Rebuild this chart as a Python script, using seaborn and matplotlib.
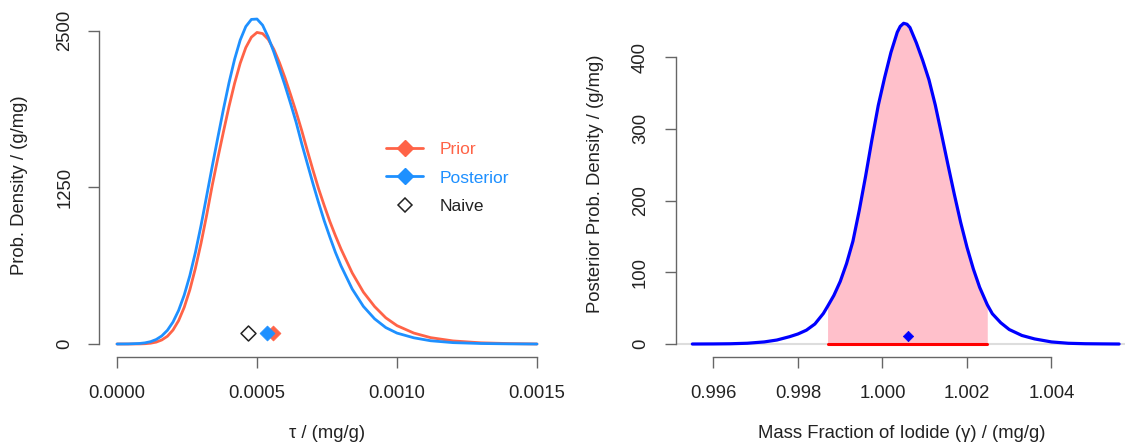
import numpy as np
import pandas as pd
import matplotlib
matplotlib.use("Agg")
import matplotlib.pyplot as plt
from matplotlib.lines import Line2D
import seaborn as sns

# ---------------- data ----------------
# Left panel: densities of tau, read at these tau positions
tau_grid = [0.0, 0.00004, 0.00008, 0.0001, 0.00012, 0.00014, 0.00016, 0.00018,
            0.0002, 0.00022, 0.00024, 0.00026, 0.00028, 0.0003, 0.00032, 0.00034,
            0.00036, 0.00038, 0.0004, 0.00042, 0.00044, 0.00046, 0.00048, 0.0005,
            0.00052, 0.00054, 0.00056, 0.00058, 0.0006, 0.00062, 0.00064, 0.00066,
            0.00068, 0.0007, 0.00072, 0.00074, 0.00076, 0.00078, 0.0008, 0.00084,
            0.00088, 0.00092, 0.00096, 0.001, 0.00106, 0.00112, 0.0012, 0.0013,
            0.0014, 0.0015]
post_dens = [0, 0.7, 4.2, 9.2, 18.8, 36, 64.6, 109.4,
             175.5, 268, 390.5, 545, 731, 945, 1180, 1417,
             1647, 1873, 2085, 2273, 2426, 2534, 2591, 2594,
             2545, 2450, 2331, 2199, 2064, 1919, 1768, 1597,
             1438, 1279, 1128, 984, 855, 732, 624, 439,
             300, 201, 131, 87, 49.5, 25.9, 10.9, 3.9,
             1.0, 0]
prior_dens = [0, 0, 0.75, 2.3, 6.3, 15, 32.3, 61.7,
              111.4, 186.5, 292.4, 431.5, 604, 803.6, 1026, 1265,
              1483, 1693, 1896, 2081, 2241, 2366, 2449, 2487,
              2478, 2432, 2353, 2247, 2125, 1990, 1851, 1702,
              1542, 1387, 1239, 1106, 979, 865, 758, 567.5,
              414, 299, 209, 146.6, 87.3, 50.8, 24.6, 9.4,
              3.4, 0]

point_labels = ["Naive", "Posterior", "Prior"]
point_tau = [0.000468, 0.000536, 0.000557]
point_y = [88, 88, 88]

# Right panel: posterior density of gamma
gamma = [0.9955, 0.996, 0.9964, 0.9968, 0.9972, 0.9975, 0.9978, 0.998,
         0.9982, 0.9984, 0.9986, 0.9987, 0.99885, 0.999, 0.99915, 0.9993,
         0.99945, 0.9996, 0.99975, 0.9999, 1.00005, 1.0002, 1.00035, 1.00042,
         1.0005, 1.00058, 1.00065, 1.0008, 1.00095, 1.0011, 1.00125, 1.0014,
         1.00155, 1.0017, 1.00185, 1.002, 1.00215, 1.0023, 1.00248, 1.0026,
         1.0028, 1.003, 1.0033, 1.0036, 1.004, 1.0044, 1.0048, 1.0052,
         1.0056]
gamma_dens = [0, 0.12, 0.36, 1.07, 2.9, 5.55, 10.2, 14.0,
              19.3, 27.9, 42.5, 52.4, 67.8, 87.2, 112.2, 143.2,
              186.2, 233.8, 284.7, 332.5, 371.2, 406.4, 434.6, 442.7,
              447, 445.7, 441.1, 420, 395.6, 368.3, 333, 291.8,
              249.8, 208.7, 169.6, 134.9, 104.7, 79, 54.8, 42.2,
              29.6, 20.2, 11.9, 7.1, 2.9, 1.03, 0.4, 0.18,
              0]
interval = [0.9987, 1.00248]
gamma_point = [1.000596]
gamma_point_y = [11]

left_xticks = [0.0, 0.0005, 0.0010, 0.0015]
left_xticklabels = ["0.0000", "0.0005", "0.0010", "0.0015"]
left_yticks = [0, 1250, 2500]
right_xticks = [0.996, 0.998, 1.000, 1.002, 1.004]
right_xticklabels = ["0.996", "0.998", "1.000", "1.002", "1.004"]
right_yticks = [0, 100, 200, 300, 400]

# ---------------- style ----------------
sns.set_style("white")
plt.rcParams["font.family"] = ["Liberation Sans", "DejaVu Sans"]

RED = "#FF6347"
BLUE = "#1E90FF"
AXC = "#666666"
TXT = "#222222"
FS = 13.3

W, H = 1125, 447
fig = plt.figure(figsize=(W / 100, H / 100), dpi=100)


def frame(x0, y0, x1, y1):
    return [x0 / W, 1 - y1 / H, (x1 - x0) / W, (y1 - y0) / H]


ax1 = fig.add_axes(frame(99, 5, 555, 357))
ax2 = fig.add_axes(frame(675.5, 5, 1125, 357))

# ---------------- left panel ----------------
df_post = pd.DataFrame({"tau": tau_grid, "dens": post_dens})
df_prior = pd.DataFrame({"tau": tau_grid, "dens": prior_dens})
sns.lineplot(data=df_prior, x="tau", y="dens", color=RED, lw=2.0, ax=ax1)
sns.lineplot(data=df_post, x="tau", y="dens", color=BLUE, lw=2.0, ax=ax1)

pts = pd.DataFrame({"tau": point_tau, "y": point_y, "lab": point_labels})
p = pts[pts.lab == "Naive"]
sns.scatterplot(data=p, x="tau", y="y", marker="D", s=58, facecolor="white",
                edgecolor=TXT, linewidth=1.1, ax=ax1, zorder=5)
p = pts[pts.lab == "Prior"]
sns.scatterplot(data=p, x="tau", y="y", marker="D", s=58, color=RED,
                edgecolor=RED, linewidth=0.5, ax=ax1, zorder=5)
p = pts[pts.lab == "Posterior"]
sns.scatterplot(data=p, x="tau", y="y", marker="D", s=58, color=BLUE,
                edgecolor=BLUE, linewidth=0.5, ax=ax1, zorder=6)

ax1.set_xlim(-0.0000643, 0.0015643)
ax1.set_ylim(-103.8, 2706)
ax1.set_xticks(left_xticks)
ax1.set_xticklabels(left_xticklabels)
ax1.set_yticks(left_yticks)
ax1.set_xlabel("τ / (mg/g)", fontsize=FS, color=TXT)
ax1.set_ylabel("Prob. Density / (g/mg)", fontsize=FS, color=TXT)
ax1.xaxis.set_label_coords(0.5, (357 - 433) / 352)
ax1.yaxis.set_label_coords((20 - 99) / 456, (357 - 185) / 352)

handles = [
    Line2D([], [], color=RED, lw=2.0, marker="D", ms=8, mfc=RED, mec=RED),
    Line2D([], [], color=BLUE, lw=2.0, marker="D", ms=8, mfc=BLUE, mec=BLUE),
    Line2D([], [], color=TXT, ls="none", marker="D", ms=7.5, mfc="white", mec=TXT, mew=1.1),
]
leg = ax1.legend(handles, ["Prior", "Posterior", "Naive"], loc="center left",
                 bbox_to_anchor=(386 / W, 1 - 178 / H), bbox_transform=fig.transFigure,
                 frameon=False, fontsize=12.5, handlelength=2.15, handletextpad=0.95,
                 labelspacing=0.77, borderpad=0, borderaxespad=0)
for t, c in zip(leg.get_texts(), [RED, BLUE, TXT]):
    t.set_color(c)

# ---------------- right panel ----------------
df_g = pd.DataFrame({"gamma": gamma, "dens": gamma_dens})
ax2.axhline(0, color="#DDDDDD", lw=1.5, zorder=1)
mask = (df_g.gamma >= interval[0] - 1e-9) & (df_g.gamma <= interval[1] + 1e-9)
ax2.fill_between(df_g.gamma[mask], 0, df_g.dens[mask], color="pink", lw=0, zorder=2)
df_int = pd.DataFrame({"gamma": interval, "dens": [0, 0]})
sns.lineplot(data=df_int, x="gamma", y="dens", color="red", lw=2.2, ax=ax2, zorder=3)
sns.lineplot(data=df_g, x="gamma", y="dens", color="blue", lw=2.3, ax=ax2, zorder=4)
sns.scatterplot(x=gamma_point, y=gamma_point_y, marker="D", s=28, color="blue",
                edgecolor="blue", linewidth=0.5, ax=ax2, zorder=5)

ax2.set_xlim(0.995101, 1.005740)
ax2.set_ylim(-18.1, 472.5)
ax2.set_xticks(right_xticks)
ax2.set_xticklabels(right_xticklabels)
ax2.set_yticks(right_yticks)
ax2.set_xlabel("Mass Fraction of Iodide (γ) / (mg/g)", fontsize=FS, color=TXT)
ax2.set_ylabel("Posterior Prob. Density / (g/mg)", fontsize=FS, color=TXT)
ax2.xaxis.set_label_coords((902 - 675.5) / 449.5, (357 - 433) / 352)
ax2.yaxis.set_label_coords((596 - 675.5) / 449.5, (357 - 184) / 352)

# ---------------- axes styling ----------------
for ax, xb, yb, ypad in [(ax1, (0, 0.0015), (0, 2500), 10.5), (ax2, (0.996, 1.004), (0, 400), 11.0)]:
    for s in ["top", "right"]:
        ax.spines[s].set_visible(False)
    for s in ["left", "bottom"]:
        ax.spines[s].set_color(AXC)
        ax.spines[s].set_linewidth(1.0)
    ax.spines["left"].set_bounds(*yb)
    ax.spines["bottom"].set_bounds(*xb)
    ax.tick_params(axis="both", direction="out", length=8, width=1.0, color=AXC,
                   labelsize=FS, labelcolor=TXT, left=True, bottom=True)
    ax.tick_params(axis="x", pad=12.5)
    ax.tick_params(axis="y", pad=ypad)
    for lbl in ax.get_yticklabels():
        lbl.set_rotation(90)
        lbl.set_va("center")
    ax.xaxis.label.set_va("center")
    ax.yaxis.label.set_va("center")
    ax.set_facecolor("white")
    ax.grid(False)

if ax2.get_legend() is not None:
    ax2.get_legend().remove()

fig.savefig("out.png", dpi=100, facecolor="white")
